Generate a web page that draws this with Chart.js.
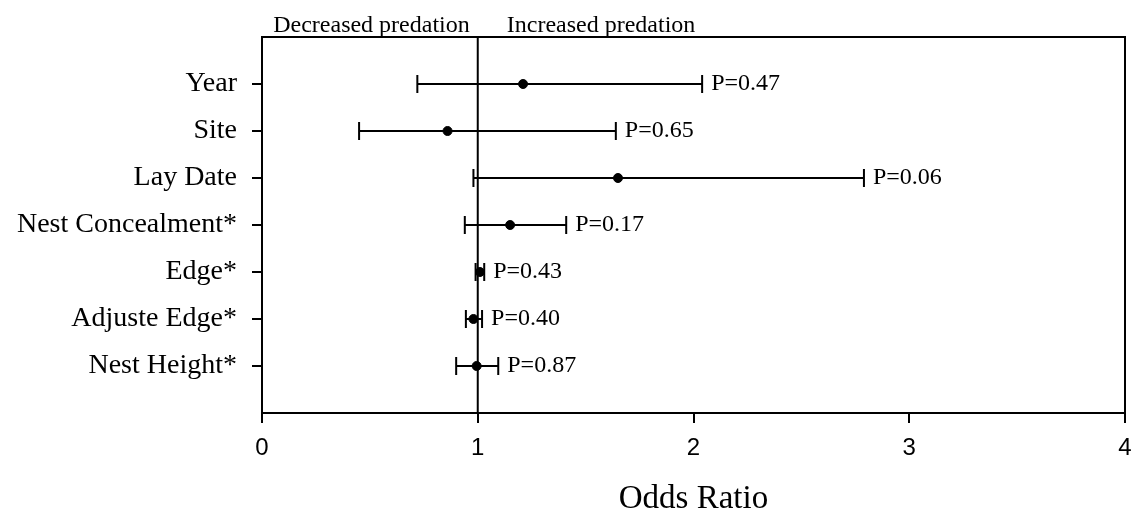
<!DOCTYPE html>
<html>
<head>
<meta charset="utf-8">
<script src="https://cdn.jsdelivr.net/npm/chart.js@4/dist/chart.umd.min.js"></script>
<style>
  body { margin: 0; background: #fff; }
  #wrap { width: 1132px; height: 516px; }
</style>
</head>
<body>
<div id="wrap"><canvas id="chart" width="1132" height="516"></canvas></div>
<script>
// predictors, top to bottom
const predictors = ["Year", "Site", "Lay Date", "Nest Concealment*", "Edge*", "Adjuste Edge*", "Nest Height*"];
const oddsRatio = [1.21, 0.86, 1.65, 1.15, 1.01, 0.98, 0.995];
const lowerCI = [0.72, 0.45, 0.98, 0.94, 0.99, 0.945, 0.90];
const upperCI = [2.04, 1.64, 2.79, 1.41, 1.03, 1.02, 1.095];
const pLabels = ["P=0.47", "P=0.65", "P=0.06", "P=0.17", "P=0.43", "P=0.40", "P=0.87"];
const xTicks = [0, 1, 2, 3, 4];

const serif = '"Liberation Serif", "Times New Roman", serif';
const sans = '"Liberation Sans", Arial, sans-serif';

// error bars, the OR = 1 line, P labels and the box
const forestPlugin = {
  id: "forest",
  beforeDatasetsDraw(chart) {
    const { ctx, chartArea, scales: { x, y } } = chart;
    ctx.save();
    ctx.strokeStyle = "#000";
    ctx.lineWidth = 2;

    // reference line at odds ratio 1
    const x1 = x.getPixelForValue(1);
    ctx.beginPath();
    ctx.moveTo(x1, chartArea.top);
    ctx.lineTo(x1, chartArea.bottom);
    ctx.stroke();

    const cap = 9;
    ctx.font = "24px " + serif;
    ctx.fillStyle = "#000";
    ctx.textBaseline = "middle";
    ctx.textAlign = "left";
    predictors.forEach((name, i) => {
      const yp = y.getPixelForValue(i + 1);
      const xl = x.getPixelForValue(lowerCI[i]);
      const xh = x.getPixelForValue(upperCI[i]);
      ctx.beginPath();
      ctx.moveTo(xl, yp);
      ctx.lineTo(xh, yp);
      ctx.moveTo(xl, yp - cap);
      ctx.lineTo(xl, yp + cap);
      ctx.moveTo(xh, yp - cap);
      ctx.lineTo(xh, yp + cap);
      ctx.stroke();
      ctx.fillText(pLabels[i], xh + 9, yp);
    });

    // headings either side of the line
    ctx.textBaseline = "alphabetic";
    ctx.textAlign = "right";
    ctx.fillText("Decreased predation", x1 - 8, 32);
    ctx.textAlign = "left";
    ctx.fillText("Increased predation", x1 + 29, 32);
    ctx.restore();
  },
  afterDraw(chart) {
    const { ctx, chartArea } = chart;
    ctx.save();
    ctx.strokeStyle = "#000";
    ctx.lineWidth = 2;
    ctx.beginPath();
    ctx.moveTo(chartArea.left - 1, chartArea.top);
    ctx.lineTo(chartArea.right, chartArea.top);
    ctx.lineTo(chartArea.right, chartArea.bottom + 10);
    ctx.stroke();
    ctx.restore();
  }
};

new Chart(document.getElementById("chart"), {
  type: "scatter",
  data: {
    datasets: [{
      data: oddsRatio.map((v, i) => ({ x: v, y: i + 1 })),
      backgroundColor: "#000",
      borderColor: "#000",
      pointRadius: 4.5,
      pointHoverRadius: 4.5
    }]
  },
  options: {
    responsive: false,
    animation: false,
    layout: { padding: { top: 37, right: 7, left: 0, bottom: 0 } },
    plugins: { legend: { display: false }, tooltip: { enabled: false } },
    scales: {
      x: {
        type: "linear",
        min: 0,
        max: 4,
        afterBuildTicks: (s) => { s.ticks = xTicks.map((v) => ({ value: v })); },
        afterFit: (s) => { s.height = 103; s.paddingLeft = 0; s.paddingRight = 0; },
        grid: { display: true, drawOnChartArea: false, drawTicks: true, tickLength: 10, color: "#000", lineWidth: 2 },
        border: { display: true, color: "#000", width: 2 },
        ticks: { color: "#000", font: { family: sans, size: 24 }, padding: 11 },
        title: {
          display: true,
          text: "Odds Ratio",
          color: "#000",
          font: { family: serif, size: 33, lineHeight: 1 },
          padding: { top: 0, bottom: 0 }
        }
      },
      y: {
        type: "linear",
        min: 0,
        max: 8,
        reverse: true,
        afterBuildTicks: (s) => { s.ticks = predictors.map((_, i) => ({ value: i + 1 })); },
        afterFit: (s) => { s.width = 262; s.paddingTop = 0; s.paddingBottom = 0; },
        grid: { display: true, drawOnChartArea: false, drawTicks: true, tickLength: 10, color: "#000", lineWidth: 2 },
        border: { display: true, color: "#000", width: 2 },
        ticks: {
          color: "#000",
          font: { family: serif, size: 28 },
          padding: 15,
          callback: (v) => predictors[v - 1]
        }
      }
    }
  },
  plugins: [forestPlugin]
});
</script>
</body>
</html>
